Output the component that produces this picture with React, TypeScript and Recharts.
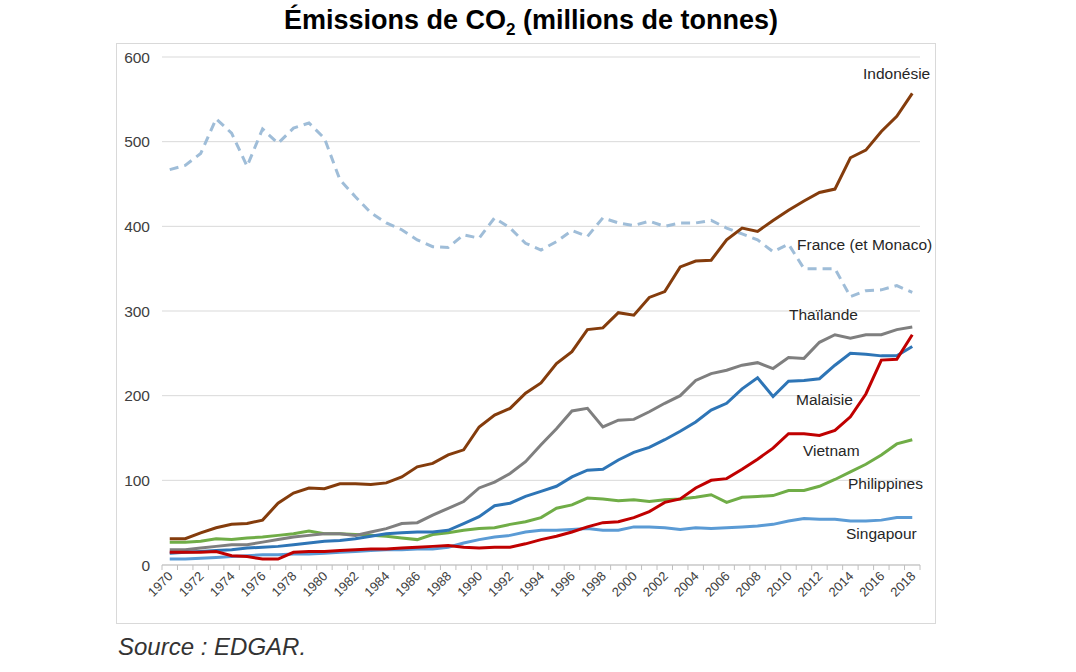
import React from "react";
import { LineChart, Line, XAxis, YAxis, CartesianGrid } from "recharts";

const years = Array.from({ length: 49 }, (_, i) => String(1970 + i));

const indonesie = [
  31, 31, 38, 44, 48, 49, 53, 73, 85, 91,
  90, 96, 96, 95, 97, 104, 116, 120, 130, 136,
  163, 177, 185, 203, 215, 238, 252, 278, 280, 298,
  295, 316, 323, 352, 359, 360, 384, 398, 394, 407,
  419, 430, 440, 444, 481, 490, 512, 530, 557,
];
const france = [
  467, 472, 486, 527, 510, 471, 515, 498, 516, 522,
  504, 455, 435, 416, 404, 396, 384, 376, 375, 390,
  386, 410, 398, 380, 372, 382, 395, 388, 410, 404,
  401, 406, 400, 404, 404, 407, 398, 391, 384, 370,
  379, 350, 350, 350, 317, 324, 325, 330, 322,
];
const thailande = [
  18, 18, 20, 22, 24, 24, 27, 30, 33, 35,
  37, 37, 35, 39, 43, 49, 50, 59, 67, 75,
  91, 98, 108, 122, 142, 161, 182, 185, 163, 171,
  172, 181, 191, 200, 218, 226, 230, 236, 239, 232,
  245, 244, 263, 272, 268, 272, 272, 278, 281,
];
const malaisie = [
  14, 15, 16, 17, 18, 20, 21, 22, 24, 26,
  28, 29, 31, 34, 37, 38, 39, 39, 41, 49,
  57, 70, 73, 81, 87, 93, 104, 112, 113, 124,
  133, 139, 148, 158, 169, 183, 191, 208, 221, 199,
  217, 218, 220, 236, 250, 249, 247, 247, 258,
];
const vietnam = [
  15, 15, 15, 16, 11, 10, 7, 7, 15, 16,
  16, 17, 18, 19, 19, 20, 21, 22, 23, 21,
  20, 21, 21, 25, 30, 34, 39, 45, 50, 51,
  56, 63, 74, 78, 91, 100, 102, 113, 125, 138,
  155, 155, 153, 159, 175, 202, 242, 243, 272,
];
const philippines = [
  27, 27, 28, 31, 30, 32, 33, 35, 37, 40,
  37, 37, 36, 35, 34, 32, 30, 36, 38, 41,
  43, 44, 48, 51, 56, 67, 71, 79, 78, 76,
  77, 75, 77, 78, 80, 83, 74, 80, 81, 82,
  88, 88, 93, 101, 110, 119, 130, 143, 148,
];
const singapour = [
  7, 7, 8, 9, 10, 11, 12, 12, 13, 13,
  14, 15, 16, 17, 18, 18, 19, 19, 21, 26,
  30, 33, 35, 39, 41, 41, 42, 43, 41, 41,
  45, 45, 44, 42, 44, 43, 44, 45, 46, 48,
  52, 55, 54, 54, 52, 52, 53, 56, 56,
];

const yTicks = [0, 100, 200, 300, 400, 500, 600];

const data = years.map((year, i) => ({
  year,
  indonesie: indonesie[i],
  france: france[i],
  thailande: thailande[i],
  malaisie: malaisie[i],
  vietnam: vietnam[i],
  philippines: philippines[i],
  singapour: singapour[i],
}));

const PLOT_W = 758;
const SLOT = PLOT_W / years.length;

// one small tick per year (between categories), a label every other year
const YearTick = (props: any) => {
  const { x, y, payload, index } = props;
  const year = Number(payload.value);
  const left = x - SLOT / 2;
  return (
    <g>
      <line x1={left} y1={y} x2={left} y2={y + 5} stroke="#bfbfbf" />
      {index === years.length - 1 && (
        <line x1={x + SLOT / 2} y1={y} x2={x + SLOT / 2} y2={y + 5} stroke="#bfbfbf" />
      )}
      {year % 2 === 0 && (
        <text
          x={x + 4}
          y={y + 12}
          textAnchor="end"
          fontSize={13}
          fill="#404040"
          transform={`rotate(-45, ${x + 4}, ${y + 12})`}
        >
          {payload.value}
        </text>
      )}
    </g>
  );
};

const labelStyle: React.CSSProperties = {
  position: "absolute",
  fontSize: 15.5,
  color: "#262626",
  whiteSpace: "nowrap",
  lineHeight: "18px",
};

const App: React.FC = () => {
  return (
    <div
      style={{
        position: "absolute",
        left: 0,
        top: 0,
        width: 1076,
        height: 672,
        background: "#fff",
        fontFamily: "'Liberation Sans', Arial, sans-serif",
      }}
    >
      <div
        style={{
          position: "absolute",
          left: 0,
          top: 5,
          width: 1062,
          textAlign: "center",
          fontSize: 27,
          fontWeight: "bold",
          color: "#000",
        }}
      >
        Émissions de CO<sub style={{ fontSize: 17 }}>2</sub> (millions de tonnes)
      </div>
      <div
        style={{
          position: "absolute",
          left: 116,
          top: 43,
          width: 820,
          height: 581,
          boxSizing: "border-box",
          border: "1px solid #d9d9d9",
        }}
      />
      <div style={{ position: "absolute", left: 116, top: 43 }}>
        <LineChart
          width={819}
          height={580}
          data={data}
          margin={{ top: 14, right: 15, left: 0, bottom: 0 }}
        >
          <CartesianGrid vertical={false} stroke="#d9d9d9" />
          <XAxis
            dataKey="year"
            interval={0}
            height={58}
            padding={{ left: SLOT / 2, right: SLOT / 2 }}
            tickLine={false}
            tickSize={0}
            tickMargin={0}
            axisLine={{ stroke: "#bfbfbf" }}
            tick={<YearTick />}
          />
          <YAxis
            width={46}
            domain={[0, 600]}
            ticks={yTicks}
            axisLine={false}
            tickLine={false}
            tickSize={0}
            tickMargin={12}
            tick={{ fontSize: 15.5, fill: "#404040" }}
          />
          <Line dataKey="france" stroke="#9fbdd8" strokeWidth={3} strokeDasharray="9 6" dot={false} isAnimationActive={false} />
          <Line dataKey="singapour" stroke="#5b9bd5" strokeWidth={3} dot={false} isAnimationActive={false} />
          <Line dataKey="philippines" stroke="#70ad47" strokeWidth={3} dot={false} isAnimationActive={false} />
          <Line dataKey="thailande" stroke="#7f7f7f" strokeWidth={3} dot={false} isAnimationActive={false} />
          <Line dataKey="malaisie" stroke="#2e75b6" strokeWidth={3} dot={false} isAnimationActive={false} />
          <Line dataKey="indonesie" stroke="#843c0c" strokeWidth={3} dot={false} isAnimationActive={false} />
          <Line dataKey="vietnam" stroke="#c00000" strokeWidth={3} dot={false} isAnimationActive={false} />
        </LineChart>
      </div>
      <div style={{ ...labelStyle, left: 863, top: 65 }}>Indonésie</div>
      <div style={{ ...labelStyle, left: 797, top: 236 }}>France (et Monaco)</div>
      <div style={{ ...labelStyle, left: 789, top: 306 }}>Thaïlande</div>
      <div style={{ ...labelStyle, left: 796, top: 391 }}>Malaisie</div>
      <div style={{ ...labelStyle, left: 803, top: 442 }}>Vietnam</div>
      <div style={{ ...labelStyle, left: 848, top: 475 }}>Philippines</div>
      <div style={{ ...labelStyle, left: 846, top: 525 }}>Singapour</div>
      <div
        style={{
          position: "absolute",
          left: 118,
          top: 633,
          fontSize: 24,
          fontStyle: "italic",
          color: "#333",
        }}
      >
        Source : EDGAR.
      </div>
    </div>
  );
};

export default App;
